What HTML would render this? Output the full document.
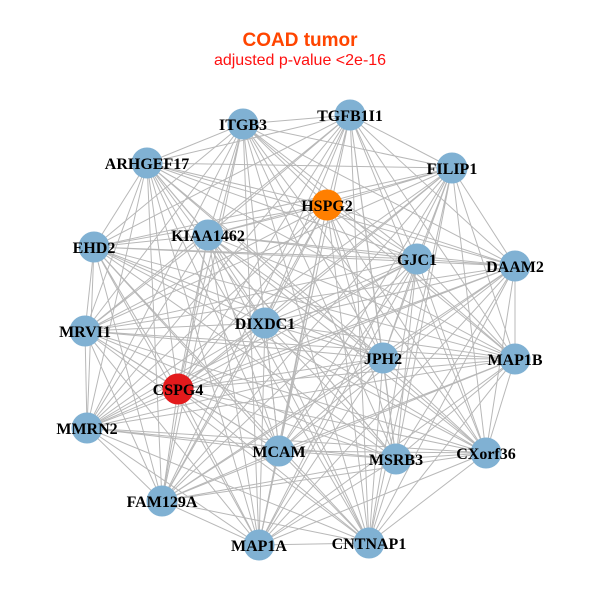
<!DOCTYPE html>
<html><head><meta charset="utf-8"><style>
html,body{margin:0;padding:0;background:#fff;}
svg{display:block;}
.l{font-family:"Liberation Serif",serif;font-weight:bold;font-size:16px;fill:#000;text-anchor:middle;}
</style></head><body>
<svg width="600" height="600" viewBox="0 0 600 600" xmlns="http://www.w3.org/2000/svg">
<rect width="600" height="600" fill="#fff"/>
<text x="300" y="46" text-anchor="middle" style="font-family:'Liberation Sans',sans-serif;font-weight:bold;font-size:19px" fill="#FF4500">COAD tumor</text>
<text x="300" y="65" text-anchor="middle" style="font-family:'Liberation Sans',sans-serif;font-size:16px" fill="#FF1010">adjusted p-value &lt;2e-16</text>
<g fill="none" stroke="#b8b8b8" stroke-width="1">
<path d="M350 115L243 124M350 115L147 163M350 115L452 168M350 115L327 205M350 115L208 235M350 115L94 247M350 115L417 259M350 115L515 266M350 115L265 323M350 115L85 331M350 115L383 358M350 115L515 359M350 115L178 389M350 115L87 428M350 115L279 451M350 115L396 459M350 115L486 453M350 115L162 501M350 115L259 545M350 115L369 543"/>
<path d="M243 124L147 163M243 124L452 168M243 124L327 205M243 124L208 235M243 124L94 247M243 124L417 259M243 124L515 266M243 124L265 323M243 124L85 331M243 124L383 358M243 124L515 359M243 124L178 389M243 124L87 428M243 124L279 451M243 124L396 459M243 124L486 453M243 124L162 501M243 124L259 545M243 124L369 543"/>
<path d="M147 163L452 168M147 163L327 205M147 163L208 235M147 163L94 247M147 163L417 259M147 163L515 266M147 163L265 323M147 163L85 331M147 163L383 358M147 163L515 359M147 163L178 389M147 163L87 428M147 163L279 451M147 163L396 459M147 163L486 453M147 163L162 501M147 163L259 545M147 163L369 543"/>
<path d="M452 168L327 205M452 168L208 235M452 168L94 247M452 168L417 259M452 168L515 266M452 168L265 323M452 168L85 331M452 168L383 358M452 168L515 359M452 168L178 389M452 168L87 428M452 168L279 451M452 168L396 459M452 168L486 453M452 168L162 501M452 168L259 545M452 168L369 543"/>
<path d="M327 205L208 235M327 205L94 247M327 205L417 259M327 205L515 266M327 205L265 323M327 205L85 331M327 205L383 358M327 205L515 359M327 205L178 389M327 205L87 428M327 205L279 451M327 205L396 459M327 205L486 453M327 205L162 501M327 205L259 545M327 205L369 543"/>
<path d="M208 235L94 247M208 235L417 259M208 235L515 266M208 235L265 323M208 235L85 331M208 235L383 358M208 235L515 359M208 235L178 389M208 235L87 428M208 235L279 451M208 235L396 459M208 235L486 453M208 235L162 501M208 235L259 545M208 235L369 543"/>
<path d="M94 247L417 259M94 247L515 266M94 247L265 323M94 247L85 331M94 247L383 358M94 247L515 359M94 247L178 389M94 247L87 428M94 247L279 451M94 247L396 459M94 247L486 453M94 247L162 501M94 247L259 545M94 247L369 543"/>
<path d="M417 259L515 266M417 259L265 323M417 259L85 331M417 259L383 358M417 259L515 359M417 259L178 389M417 259L87 428M417 259L279 451M417 259L396 459M417 259L486 453M417 259L162 501M417 259L259 545M417 259L369 543"/>
<path d="M515 266L265 323M515 266L85 331M515 266L383 358M515 266L515 359M515 266L178 389M515 266L87 428M515 266L279 451M515 266L396 459M515 266L486 453M515 266L162 501M515 266L259 545M515 266L369 543"/>
<path d="M265 323L85 331M265 323L383 358M265 323L515 359M265 323L178 389M265 323L87 428M265 323L279 451M265 323L396 459M265 323L486 453M265 323L162 501M265 323L259 545M265 323L369 543"/>
<path d="M85 331L383 358M85 331L515 359M85 331L178 389M85 331L87 428M85 331L279 451M85 331L396 459M85 331L486 453M85 331L162 501M85 331L259 545M85 331L369 543"/>
<path d="M383 358L515 359M383 358L178 389M383 358L87 428M383 358L279 451M383 358L396 459M383 358L486 453M383 358L162 501M383 358L259 545M383 358L369 543"/>
<path d="M515 359L178 389M515 359L87 428M515 359L279 451M515 359L396 459M515 359L486 453M515 359L162 501M515 359L259 545M515 359L369 543"/>
<path d="M178 389L87 428M178 389L279 451M178 389L396 459M178 389L486 453M178 389L162 501M178 389L259 545M178 389L369 543"/>
<path d="M87 428L279 451M87 428L396 459M87 428L486 453M87 428L162 501M87 428L259 545M87 428L369 543"/>
<path d="M279 451L396 459M279 451L486 453M279 451L162 501M279 451L259 545M279 451L369 543"/>
<path d="M396 459L486 453M396 459L162 501M396 459L259 545M396 459L369 543"/>
<path d="M486 453L162 501M486 453L259 545M486 453L369 543"/>
<path d="M162 501L259 545M162 501L369 543M259 545L369 543"/>
</g>
<g fill="#80B1D3">
<circle cx="350" cy="115" r="15.5"/>
<circle cx="243" cy="124" r="15.5"/>
<circle cx="147" cy="163" r="15.5"/>
<circle cx="452" cy="168" r="15.5"/>
<circle cx="327" cy="205" r="15.5" fill="#FF7F00"/>
<circle cx="208" cy="235" r="15.5"/>
<circle cx="94" cy="247" r="15.5"/>
<circle cx="417" cy="259" r="15.5"/>
<circle cx="515" cy="266" r="15.5"/>
<circle cx="265" cy="323" r="15.5"/>
<circle cx="85" cy="331" r="15.5"/>
<circle cx="383" cy="358" r="15.5"/>
<circle cx="515" cy="359" r="15.5"/>
<circle cx="178" cy="389" r="15.5" fill="#E31A1C"/>
<circle cx="87" cy="428" r="15.5"/>
<circle cx="279" cy="451" r="15.5"/>
<circle cx="396" cy="459" r="15.5"/>
<circle cx="486" cy="453" r="15.5"/>
<circle cx="162" cy="501" r="15.5"/>
<circle cx="259" cy="545" r="15.5"/>
<circle cx="369" cy="543" r="15.5"/>
</g>
<g class="l">
<text class="l" x="350" y="121">TGFB1I1</text>
<text class="l" x="243" y="130">ITGB3</text>
<text class="l" x="147" y="169">ARHGEF17</text>
<text class="l" x="452" y="174">FILIP1</text>
<text class="l" x="327" y="211">HSPG2</text>
<text class="l" x="208" y="241">KIAA1462</text>
<text class="l" x="94" y="253">EHD2</text>
<text class="l" x="417" y="265">GJC1</text>
<text class="l" x="515" y="272">DAAM2</text>
<text class="l" x="265" y="329">DIXDC1</text>
<text class="l" x="85" y="337">MRVI1</text>
<text class="l" x="383" y="364">JPH2</text>
<text class="l" x="515" y="365">MAP1B</text>
<text class="l" x="178" y="395">CSPG4</text>
<text class="l" x="87" y="434">MMRN2</text>
<text class="l" x="279" y="457">MCAM</text>
<text class="l" x="396" y="465">MSRB3</text>
<text class="l" x="486" y="459">CXorf36</text>
<text class="l" x="162" y="507">FAM129A</text>
<text class="l" x="259" y="551">MAP1A</text>
<text class="l" x="369" y="549">CNTNAP1</text>
</g>
</svg>
</body></html>
